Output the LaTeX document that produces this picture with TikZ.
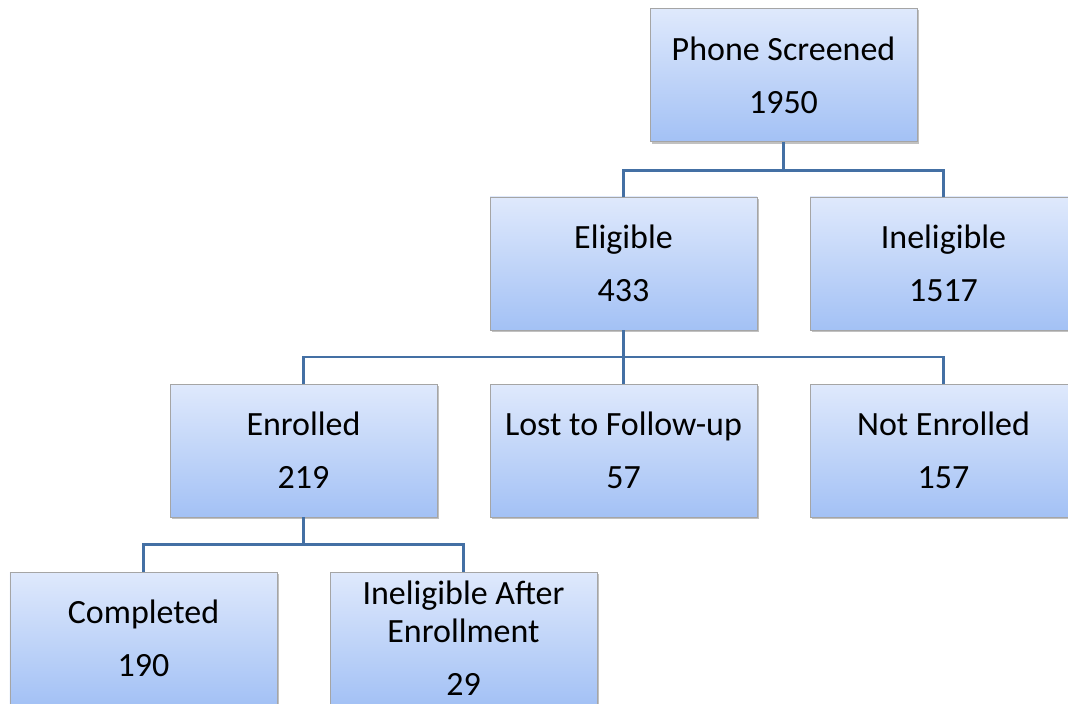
\documentclass[tikz,border=0pt]{standalone}
\usepackage{fontspec}
\setmainfont{Carlito}
\usetikzlibrary{shadows}
\definecolor{boxtop}{RGB}{223,233,252}
\definecolor{boxbot}{RGB}{163,193,245}
\definecolor{boxedge}{RGB}{165,165,165}
\definecolor{linkblue}{RGB}{68,112,164}
\tikzset{
  stagebox/.style={rectangle, draw=boxedge, line width=0.8bp,
    top color=boxtop, bottom color=boxbot,
    minimum width=267bp, minimum height=133bp, inner sep=0pt,
    align=center, font=\fontsize{34.1}{38.1}\selectfont,
    drop shadow={shadow xshift=1.5bp, shadow yshift=-2bp, opacity=0.35, fill=black!70}},
  conn/.style={draw=linkblue, line width=2.6bp}
}
\newcommand{\gapline}{\\[15bp]}
\begin{document}
\begin{tikzpicture}[x=1bp,y=-1bp]
\useasboundingbox (0,0) rectangle (1068,704);
\clip (0,0) rectangle (1068,704);

% tree of stages
\node[stagebox] (phone) at (783.5,75)  {Phone Screened\gapline 1950};
\node[stagebox] (elig)  at (623.5,263.5) {Eligible\gapline 433};
\node[stagebox] (inel)  at (943.5,263.5) {Ineligible\gapline 1517};
\node[stagebox] (enr)   at (303.5,450.5) {Enrolled\gapline 219};
\node[stagebox] (lost)  at (623.5,450.5) {Lost to Follow-up\gapline 57};
\node[stagebox] (noenr) at (943.5,450.5) {Not Enrolled\gapline 157};
\node[stagebox] (comp)  at (143.5,638.5) {Completed\gapline 190};
\node[stagebox] (iae)   at (463.5,638.5) {Ineligible After\\Enrollment\gapline 29};

% elbow connectors
\draw[conn] (phone.south) -- ++(0,28.5) -| (elig.north);
\draw[conn] (phone.south) -- ++(0,28.5) -| (inel.north);
\draw[conn] (elig.south) -- ++(0,26.5) -| (enr.north);
\draw[conn] (elig.south) -- ++(0,26.5) -| (lost.north);
\draw[conn] (elig.south) -- ++(0,26.5) -| (noenr.north);
\draw[conn] (enr.south) -- ++(0,27) -| (comp.north);
\draw[conn] (enr.south) -- ++(0,27) -| (iae.north);
\end{tikzpicture}
\end{document}
